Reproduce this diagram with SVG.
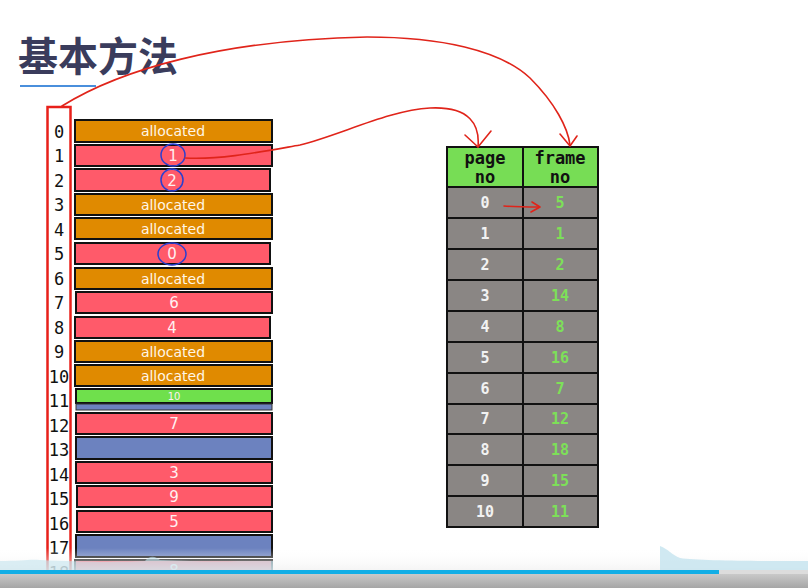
<svg xmlns="http://www.w3.org/2000/svg" width="808" height="588" viewBox="0 0 808 588">
<defs>
<style>
.idx{font-family:"DejaVu Sans Mono","Liberation Mono",monospace;font-size:17px;fill:#111;text-anchor:middle}
.bar{stroke:#111;stroke-width:2}
.alloc{fill:#e08a00}
.pink{fill:#ff5a6a}
.blue{fill:#6c82bf}
.green{fill:#6fe04c}
.lbl{font-family:"DejaVu Sans","Liberation Sans",sans-serif;font-size:14px;fill:#fff6e6;text-anchor:middle}
.num{font-family:"DejaVu Sans","Liberation Sans",sans-serif;font-size:15px;fill:#fff0f0;text-anchor:middle}
.small{font-size:10px}
.cell{fill:#8a8684;stroke:#111;stroke-width:2}
.hdr{fill:#77dd55;stroke:#111;stroke-width:2}
.ht{font-family:"DejaVu Sans Mono","Liberation Mono",monospace;font-size:17px;font-weight:bold;fill:#111;text-anchor:middle}
.pg{font-family:"DejaVu Sans Mono","Liberation Mono",monospace;font-size:15px;font-weight:bold;fill:#f2f2f2;text-anchor:middle}
.fr{font-family:"DejaVu Sans Mono","Liberation Mono",monospace;font-size:15px;font-weight:bold;fill:#7de058;text-anchor:middle}
.red{fill:none;stroke:#e0241a;stroke-width:1.6;stroke-linecap:round;stroke-linejoin:round}
.circ{fill:none;stroke:#2a3fd0;stroke-width:1.5}
</style>
<linearGradient id="fade" x1="0" y1="0" x2="0" y2="1">
<stop offset="0" stop-color="#ffffff" stop-opacity="0"/>
<stop offset="1" stop-color="#f0f0f0" stop-opacity="0.7"/>
</linearGradient>
<linearGradient id="ctrl" x1="0" y1="0" x2="0" y2="1">
<stop offset="0" stop-color="#c9c9c9"/>
<stop offset="1" stop-color="#a6a6a6"/>
</linearGradient>
</defs>
<rect width="808" height="588" fill="#ffffff"/>

<g id="title">
<text x="18" y="71" font-family="'Noto Sans CJK SC','Noto Sans CJK JP',sans-serif" font-size="40" font-weight="bold" fill="#3a3c5c">基本方法</text>
<line x1="20" y1="86" x2="96" y2="86" stroke="#4a8fdc" stroke-width="2"/>
</g>

<g id="index-box">
<rect x="47.5" y="107" width="23" height="490" fill="none" stroke="#e8201a" stroke-width="2.5"/>
<text class="idx" x="59" y="138">0</text>
<text class="idx" x="59" y="162">1</text>
<text class="idx" x="59" y="187">2</text>
<text class="idx" x="59" y="211">3</text>
<text class="idx" x="59" y="236">4</text>
<text class="idx" x="59" y="260">5</text>
<text class="idx" x="59" y="285">6</text>
<text class="idx" x="59" y="309">7</text>
<text class="idx" x="59" y="334">8</text>
<text class="idx" x="59" y="358">9</text>
<text class="idx" x="59" y="383">10</text>
<text class="idx" x="59" y="407">11</text>
<text class="idx" x="59" y="432">12</text>
<text class="idx" x="59" y="456">13</text>
<text class="idx" x="59" y="481">14</text>
<text class="idx" x="59" y="505">15</text>
<text class="idx" x="59" y="530">16</text>
<text class="idx" x="59" y="554">17</text>
<text class="idx" x="59" y="579">18</text>
</g>

<g id="memory">
<rect class="bar alloc" x="75" y="120" width="197" height="22"/><text class="lbl" x="173" y="136">allocated</text>
<rect class="bar pink" x="75" y="145" width="197" height="21"/><text class="num" x="173" y="161">1</text>
<rect class="bar pink" x="75" y="169" width="195" height="22"/><text class="num" x="172" y="186">2</text>
<rect class="bar alloc" x="75" y="194" width="197" height="21"/><text class="lbl" x="173" y="210">allocated</text>
<rect class="bar alloc" x="75" y="218" width="197" height="21"/><text class="lbl" x="173" y="234">allocated</text>
<rect class="bar pink" x="75" y="243" width="195" height="21"/><text class="num" x="172" y="259">0</text>
<rect class="bar alloc" x="75" y="268" width="197" height="21"/><text class="lbl" x="173" y="284">allocated</text>
<rect class="bar pink" x="76" y="292" width="196" height="21"/><text class="num" x="174" y="308">6</text>
<rect class="bar pink" x="75" y="317" width="195" height="21"/><text class="num" x="172" y="333">4</text>
<rect class="bar alloc" x="75" y="341" width="197" height="21"/><text class="lbl" x="173" y="357">allocated</text>
<rect class="bar alloc" x="75" y="365" width="197" height="21"/><text class="lbl" x="173" y="381">allocated</text>
<rect class="bar green" x="76" y="389" width="196" height="14"/><text class="num small" x="174" y="400">10</text>
<rect class="blue" x="76" y="404" width="196" height="6" stroke="#333" stroke-width="1"/>
<rect class="bar pink" x="76" y="413" width="196" height="21"/><text class="num" x="174" y="429">7</text>
<rect class="bar blue" x="76" y="437" width="196" height="22"/>
<rect class="bar pink" x="76" y="462" width="196" height="21"/><text class="num" x="174" y="478">3</text>
<rect class="bar pink" x="77" y="486" width="195" height="21"/><text class="num" x="174" y="502">9</text>
<rect class="bar pink" x="77" y="511" width="195" height="21"/><text class="num" x="174" y="527">5</text>
<rect class="bar blue" x="76" y="535" width="196" height="22"/>
<rect class="bar pink" x="75" y="560" width="197" height="21"/><text class="num" x="174" y="576">8</text>
</g>

<g id="circles">
<ellipse class="circ" cx="173" cy="155" rx="12" ry="11"/>
<ellipse class="circ" cx="172" cy="180" rx="11" ry="11"/>
<ellipse class="circ" cx="172" cy="254" rx="14" ry="11"/>
</g>

<g id="page-table">
<rect class="hdr" x="447" y="147" width="76" height="40"/>
<rect class="hdr" x="523" y="147" width="75" height="40"/>
<text class="ht" x="485" y="164">page</text><text class="ht" x="485" y="183">no</text>
<text class="ht" x="560" y="164">frame</text><text class="ht" x="560" y="183">no</text>
<rect class="cell" x="447" y="187" width="76" height="31"/><rect class="cell" x="523" y="187" width="75" height="31"/>
<rect class="cell" x="447" y="218" width="76" height="31"/><rect class="cell" x="523" y="218" width="75" height="31"/>
<rect class="cell" x="447" y="249" width="76" height="31"/><rect class="cell" x="523" y="249" width="75" height="31"/>
<rect class="cell" x="447" y="280" width="76" height="31"/><rect class="cell" x="523" y="280" width="75" height="31"/>
<rect class="cell" x="447" y="311" width="76" height="31"/><rect class="cell" x="523" y="311" width="75" height="31"/>
<rect class="cell" x="447" y="342" width="76" height="31"/><rect class="cell" x="523" y="342" width="75" height="31"/>
<rect class="cell" x="447" y="373" width="76" height="31"/><rect class="cell" x="523" y="373" width="75" height="31"/>
<rect class="cell" x="447" y="404" width="76" height="30"/><rect class="cell" x="523" y="404" width="75" height="30"/>
<rect class="cell" x="447" y="434" width="76" height="31"/><rect class="cell" x="523" y="434" width="75" height="31"/>
<rect class="cell" x="447" y="465" width="76" height="31"/><rect class="cell" x="523" y="465" width="75" height="31"/>
<rect class="cell" x="447" y="496" width="76" height="31"/><rect class="cell" x="523" y="496" width="75" height="31"/>
<text class="pg" x="485" y="208">0</text><text class="fr" x="560" y="208">5</text>
<text class="pg" x="485" y="239">1</text><text class="fr" x="560" y="239">1</text>
<text class="pg" x="485" y="270">2</text><text class="fr" x="560" y="270">2</text>
<text class="pg" x="485" y="301">3</text><text class="fr" x="560" y="301">14</text>
<text class="pg" x="485" y="332">4</text><text class="fr" x="560" y="332">8</text>
<text class="pg" x="485" y="363">5</text><text class="fr" x="560" y="363">16</text>
<text class="pg" x="485" y="394">6</text><text class="fr" x="560" y="394">7</text>
<text class="pg" x="485" y="424">7</text><text class="fr" x="560" y="424">12</text>
<text class="pg" x="485" y="455">8</text><text class="fr" x="560" y="455">18</text>
<text class="pg" x="485" y="486">9</text><text class="fr" x="560" y="486">15</text>
<text class="pg" x="485" y="517">10</text><text class="fr" x="560" y="517">11</text>
</g>

<g id="connectors">
<path class="red" d="M62,106 C120,70 220,40 367,37 C440,37 500,50 530,78 C555,103 568,128 570,145"/>
<path class="red" d="M560,134 L570,146 L577,136"/>
<path class="red" d="M185,158 C220,160 260,152 300,145 C340,135 390,110 430,108 C470,106 480,125 478,147"/>
<path class="red" d="M465,135 L478,147 L491,131"/>
<path class="red" d="M504,206 C515,207 528,207 539,207"/>
<path class="red" d="M532,202 L540,207 L531,212"/>
</g>

<g id="player-bar">
<rect x="0" y="548" width="808" height="22" fill="url(#fade)"/>
<path d="M0,570 L0,561 C20,561 30,559 40,560 C80,562 120,562 145,561 C150,555 155,556 160,560 C200,562 240,561 273,561 L273,570 Z" fill="#c4e4ef" opacity="0.6"/>
<path d="M660,570 L660,546 C668,549 672,555 680,558 C700,561 760,561 808,561 L808,570 Z" fill="#c4e4ef" opacity="0.8"/>
<rect x="0" y="570" width="719" height="4" fill="#12aee6"/>
<rect x="719" y="570" width="89" height="4" fill="#dcdcdc"/>
<rect x="0" y="574" width="808" height="14" fill="url(#ctrl)"/>
</g>
</svg>
